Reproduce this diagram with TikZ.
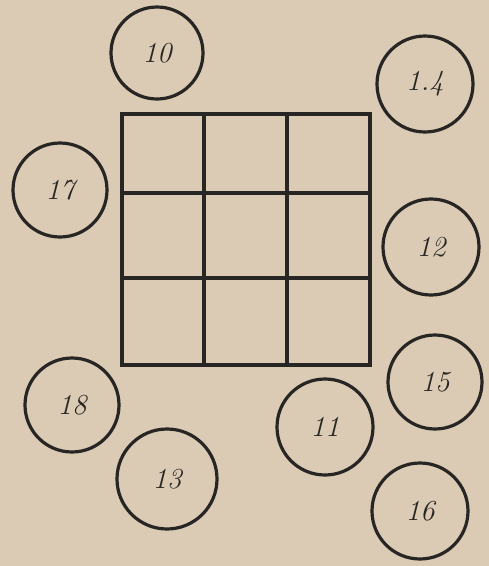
\documentclass[tikz,border=0pt]{standalone}
\definecolor{paper}{RGB}{220,203,180}
\definecolor{ink}{RGB}{40,38,36}
\begin{document}
\begin{tikzpicture}[x=1pt,y=-1pt,
  disc/.style={circle,draw=ink,line width=3.2pt,inner sep=0pt,font=\fontsize{29}{29}\selectfont\itshape,text=ink},
  gridline/.style={draw=ink,line width=3.2pt}]
\fill[paper] (0,0) rectangle (489,566);
\useasboundingbox (0,0) rectangle (489,566);
% grid
\coordinate (g00) at (122,114);
\coordinate (g11) at (370,365);
\draw[gridline] (g00) rectangle (g11);
\coordinate (v1t) at (204,114); \coordinate (v1b) at (204,365);
\coordinate (v2t) at (287,114); \coordinate (v2b) at (287,365);
\coordinate (h1l) at (122,193); \coordinate (h1r) at (370,193);
\coordinate (h2l) at (122,278); \coordinate (h2r) at (370,278);
\draw[gridline] (v1t) -- (v1b);
\draw[gridline] (v2t) -- (v2b);
\draw[gridline] (h1l) -- (h1r);
\draw[gridline] (h2l) -- (h2r);
% circles
\node[disc,minimum size=92pt] (c10) at (157,53) {10};
\node[disc,minimum size=96pt] (c14) at (425,84) {1.4};
\node[disc,minimum size=94pt] (c17) at (60,190) {17};
\node[disc,minimum size=96pt] (c12) at (431,247) {12};
\node[disc,minimum size=94pt] (c15) at (435,382) {15};
\node[disc,minimum size=94pt] (c18) at (72,405) {18};
\node[disc,minimum size=96pt] (c11) at (325,427) {11};
\node[disc,minimum size=100pt] (c13) at (167,479) {13};
\node[disc,minimum size=96pt] (c16) at (420,511) {16};
\end{tikzpicture}
\end{document}
